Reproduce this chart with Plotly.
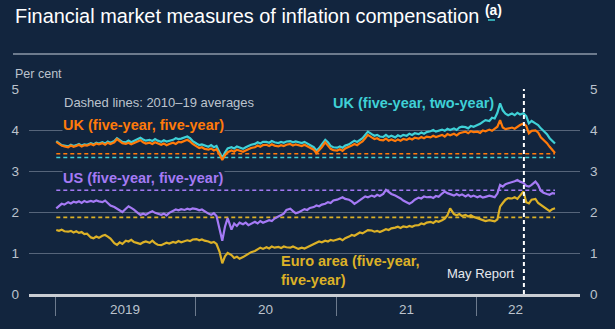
import pandas as pd
import plotly.graph_objects as go

# ---------------------------------------------------------------------------
# Data: four readings a month (4th, 11th, 18th, 25th), Jan 2019 - Jul 2022
# ---------------------------------------------------------------------------
months = pd.date_range("2019-01-01", "2022-07-01", freq="MS")
dates = [m + pd.Timedelta(days=d - 1) for m in months for d in (4, 11, 18, 25)]

uk_5y5y = [
    3.71, 3.66, 3.62, 3.60, 3.58, 3.62, 3.59, 3.61, 3.64, 3.60, 3.63, 3.62,
    3.66, 3.63, 3.67, 3.65, 3.68, 3.64, 3.69, 3.66, 3.70, 3.78, 3.72, 3.68,
    3.66, 3.69, 3.65, 3.68, 3.71, 3.75, 3.70, 3.67, 3.69, 3.66, 3.70, 3.67,
    3.64, 3.67, 3.63, 3.66, 3.69, 3.66, 3.71, 3.70, 3.74, 3.76, 3.72, 3.66,
    # 2020
    3.60, 3.56, 3.58, 3.54, 3.52, 3.55, 3.50, 3.53, 3.40, 3.27, 3.38, 3.46,
    3.50, 3.47, 3.52, 3.49, 3.47, 3.50, 3.54, 3.56, 3.58, 3.62, 3.59, 3.63,
    3.64, 3.61, 3.65, 3.62, 3.60, 3.63, 3.61, 3.64, 3.66, 3.62, 3.65, 3.63,
    3.61, 3.64, 3.60, 3.58, 3.52, 3.44, 3.50, 3.58, 3.70, 3.62, 3.54, 3.51,
    # 2021
    3.50, 3.53, 3.49, 3.55, 3.58, 3.62, 3.66, 3.63, 3.68, 3.72, 3.80, 3.88,
    3.82, 3.78, 3.80, 3.76, 3.75, 3.79, 3.74, 3.77, 3.73, 3.77, 3.74, 3.78,
    3.76, 3.80, 3.77, 3.81, 3.79, 3.83, 3.80, 3.84, 3.82, 3.86, 3.83, 3.85,
    3.88, 3.84, 3.90, 3.87, 3.91, 3.87, 3.92, 3.94, 3.96, 3.92, 3.97, 3.95,
    # 2022
    3.96, 3.93, 3.99, 3.97, 4.01, 3.98, 4.04, 4.08, 4.24, 4.06, 4.02, 4.04,
    4.06, 4.03, 4.08, 4.12, 4.16, 4.10, 3.92, 3.98, 3.99, 3.94, 3.82, 3.76,
    3.68, 3.59, 3.52, 3.44,
]

uk_5y2y = [
    3.73, 3.68, 3.63, 3.62, 3.60, 3.64, 3.61, 3.63, 3.66, 3.62, 3.65, 3.64,
    3.68, 3.65, 3.69, 3.67, 3.70, 3.67, 3.72, 3.69, 3.73, 3.80, 3.75, 3.71,
    3.70, 3.74, 3.70, 3.73, 3.77, 3.81, 3.77, 3.74, 3.76, 3.73, 3.78, 3.74,
    3.71, 3.75, 3.72, 3.74, 3.76, 3.80, 3.78, 3.79, 3.82, 3.84, 3.80, 3.73,
    # 2020
    3.67, 3.63, 3.65, 3.62, 3.59, 3.63, 3.58, 3.61, 3.47, 3.32, 3.45, 3.55,
    3.58, 3.55, 3.60, 3.57, 3.54, 3.58, 3.62, 3.64, 3.66, 3.70, 3.67, 3.71,
    3.71, 3.69, 3.73, 3.70, 3.68, 3.71, 3.69, 3.72, 3.73, 3.70, 3.72, 3.70,
    3.68, 3.71, 3.67, 3.65, 3.58, 3.50, 3.56, 3.65, 3.76, 3.70, 3.61, 3.58,
    # 2021
    3.57, 3.60, 3.57, 3.62, 3.65, 3.70, 3.74, 3.71, 3.76, 3.80, 3.88, 3.96,
    3.90, 3.86, 3.88, 3.84, 3.83, 3.88, 3.83, 3.86, 3.82, 3.87, 3.84, 3.88,
    3.86, 3.91, 3.88, 3.92, 3.90, 3.94, 3.91, 3.95, 3.97, 4.00, 3.96, 3.99,
    4.01, 3.98, 4.03, 4.00, 4.04, 4.00, 4.06, 4.08, 4.07, 4.04, 4.10, 4.08,
    # 2022
    4.12, 4.15, 4.20, 4.24, 4.22, 4.30, 4.28, 4.42, 4.65, 4.48, 4.40, 4.36,
    4.40, 4.36, 4.42, 4.38, 4.41, 4.34, 4.16, 4.22, 4.16, 4.12, 4.04, 3.98,
    3.90, 3.80, 3.74, 3.67,
]

us_5y5y = [
    2.09, 2.14, 2.20, 2.18, 2.24, 2.21, 2.25, 2.23, 2.26, 2.22, 2.27, 2.24,
    2.27, 2.25, 2.28, 2.26, 2.24, 2.28, 2.22, 2.16, 2.12, 2.08, 2.02, 2.00,
    2.08, 2.14, 2.10, 2.06, 1.98, 1.93, 1.96, 1.93, 1.99, 2.02, 1.98, 1.96,
    1.93, 1.96, 1.92, 1.98, 2.03, 2.06, 2.04, 2.07, 2.05, 2.08, 2.06, 2.09,
    # 2020
    2.07, 2.04, 2.06, 2.01, 1.96, 1.93, 1.97, 1.90, 1.55, 1.30, 1.64, 1.85,
    1.57, 1.72, 1.66, 1.74, 1.70, 1.74, 1.68, 1.72, 1.76, 1.72, 1.78, 1.74,
    1.77, 1.80, 1.78, 1.84, 1.89, 1.92, 1.96, 2.05, 2.08, 2.02, 1.97, 1.99,
    2.04, 2.07, 2.05, 2.10, 2.12, 2.16, 2.14, 2.18, 2.20, 2.24, 2.22, 2.28,
    # 2021
    2.30, 2.33, 2.36, 2.32, 2.30, 2.26, 2.20, 2.24, 2.28, 2.33, 2.38, 2.36,
    2.40, 2.37, 2.42, 2.39, 2.44, 2.54, 2.48, 2.44, 2.40, 2.37, 2.33, 2.28,
    2.24, 2.20, 2.24, 2.30, 2.35, 2.33, 2.38, 2.36, 2.37, 2.34, 2.39, 2.37,
    2.45, 2.50, 2.46, 2.43, 2.40, 2.44, 2.40, 2.43, 2.38, 2.42, 2.37, 2.40,
    # 2022
    2.36, 2.39, 2.35, 2.37, 2.40, 2.38, 2.36, 2.45, 2.66, 2.62, 2.68, 2.70,
    2.72, 2.75, 2.78, 2.74, 2.71, 2.64, 2.62, 2.66, 2.74, 2.66, 2.52, 2.47,
    2.44, 2.42, 2.46, 2.45,
]

ea_5y5y = [
    1.56, 1.54, 1.57, 1.53, 1.52, 1.54, 1.50, 1.53, 1.49, 1.51, 1.46, 1.47,
    1.38, 1.36, 1.40, 1.37, 1.42, 1.44, 1.40, 1.35, 1.24, 1.20, 1.26, 1.22,
    1.30, 1.28, 1.32, 1.27, 1.24, 1.22, 1.26, 1.28, 1.25, 1.30, 1.24, 1.20,
    1.19, 1.22, 1.25, 1.23, 1.27, 1.25, 1.29, 1.26, 1.28, 1.31, 1.29, 1.33,
    # 2020
    1.34, 1.31, 1.33, 1.30, 1.28, 1.25, 1.27, 1.22, 1.03, 0.75, 0.92, 1.00,
    0.95, 0.88, 0.91, 0.86, 0.90, 0.94, 0.98, 1.02, 1.05, 1.09, 1.13, 1.10,
    1.14, 1.11, 1.16, 1.13, 1.15, 1.12, 1.16, 1.14, 1.13, 1.16, 1.12, 1.10,
    1.13, 1.11, 1.14, 1.17, 1.20, 1.24, 1.28, 1.26, 1.30, 1.28, 1.32, 1.30,
    # 2021
    1.32, 1.35, 1.31, 1.36, 1.40, 1.44, 1.42, 1.46, 1.50, 1.48, 1.52, 1.56,
    1.55, 1.52, 1.54, 1.51, 1.55, 1.58, 1.56, 1.60, 1.62, 1.64, 1.61, 1.65,
    1.63, 1.66, 1.64, 1.67, 1.68, 1.72, 1.70, 1.74, 1.76, 1.73, 1.78, 1.76,
    1.80, 1.84, 1.92, 2.09, 1.95, 1.92, 1.95, 1.90, 1.93, 1.89, 1.92, 1.88,
    # 2022
    1.85, 1.82, 1.80, 1.78, 1.80, 1.78, 1.77, 1.82, 2.13, 2.22, 2.30, 2.34,
    2.33, 2.36, 2.32, 2.40, 2.50, 2.24, 2.21, 2.30, 2.32, 2.22, 2.17, 2.12,
    2.06, 2.02, 2.07, 2.09,
]

# 2010-19 averages (dashed reference lines)
avg_uk_5y5y = 3.42
avg_uk_5y2y = 3.33
avg_us_5y5y = 2.53
avg_ea_5y5y = 1.87

year_ticks = ["2019-01-01", "2020-01-01", "2021-01-01", "2022-01-01"]
year_labels = ["2019", "20", "21", "22"]
may_report_date = "2022-05-05"
y_ticks = [0, 1, 2, 3, 4, 5]

# ---------------------------------------------------------------------------
# Styling
# ---------------------------------------------------------------------------
W, H = 615, 329
L, R, T, B = 29, 35, 89, 35
PW, PH = W - L - R, H - T - B


def px(xp):
    """Pixel column -> paper x."""
    return (xp - L) / PW


def py(yp):
    """Pixel row -> paper y."""
    return (H - B - yp) / PH


BG = "#12253e"
GRID = "#56657a"
AXIS = "#c9cdd3"
TXT = "#bcc3cd"
FONT = "Liberation Sans"

C_TEAL = "#3fd0d6"
C_ORANGE = "#ff7a0a"
C_PURPLE = "#a57af5"
C_YELLOW = "#dcb127"

fig = go.Figure()

# dashed averages
for avg, col in [(avg_uk_5y2y, C_TEAL), (avg_uk_5y5y, C_ORANGE),
                 (avg_us_5y5y, C_PURPLE), (avg_ea_5y5y, C_YELLOW)]:
    fig.add_trace(go.Scatter(
        x=[dates[0], dates[-1]], y=[avg, avg], mode="lines",
        line=dict(color=col, width=1.6, dash="4px,3px"),
        hoverinfo="skip", showlegend=False))

# series
for vals, col in [(us_5y5y, C_PURPLE), (ea_5y5y, C_YELLOW),
                  (uk_5y2y, C_TEAL), (uk_5y5y, C_ORANGE)]:
    fig.add_trace(go.Scatter(
        x=dates, y=vals, mode="lines",
        line=dict(color=col, width=2.2),
        hoverinfo="skip", showlegend=False))

# invisible trace to carry the right-hand axis
fig.add_trace(go.Scatter(x=[dates[0]], y=[0], yaxis="y2", mode="markers",
                         marker=dict(opacity=0), hoverinfo="skip",
                         showlegend=False))

ann = []
# x-axis year labels, centred in the span covered by each year
span_end = [pd.Timestamp(d) for d in year_ticks[1:]] + [dates[-1]]
for lbl, start, end in zip(year_labels, year_ticks, span_end):
    mid = pd.Timestamp(start) + (end - pd.Timestamp(start)) / 2
    ann.append(dict(x=mid, xref="x", y=py(309), yref="paper", text=lbl,
                    showarrow=False, xanchor="center", yanchor="middle",
                    font=dict(family=FONT, size=13.5, color=TXT)))

# title and unit
ann.append(dict(x=px(13), y=py(15), xref="paper", yref="paper",
                text="Financial market measures of inflation compensation <sup><b>(a)</b></sup>",
                showarrow=False, xanchor="left", yanchor="middle",
                font=dict(family=FONT, size=19.9, color="#ffffff")))
ann.append(dict(x=px(13), y=py(74), xref="paper", yref="paper", text="Per cent",
                showarrow=False, xanchor="left", yanchor="middle",
                font=dict(family=FONT, size=12.5, color=TXT)))

# series labels
ann.append(dict(x=px(62), y=py(103), xref="paper", yref="paper",
                text="Dashed lines: 2010\u201319 averages", showarrow=False,
                xanchor="left", yanchor="middle",
                font=dict(family=FONT, size=13, color=TXT)))
ann.append(dict(x=px(331), y=py(103), xref="paper", yref="paper",
                text="<b>UK (five-year, two-year)</b>", showarrow=False,
                xanchor="left", yanchor="middle",
                font=dict(family=FONT, size=14.5, color=C_TEAL)))
ann.append(dict(x=px(62), y=py(125), xref="paper", yref="paper",
                text="<b>UK (five-year, five-year)</b>", showarrow=False,
                xanchor="left", yanchor="middle", bgcolor=BG, borderpad=0,
                font=dict(family=FONT, size=14.5, color=C_ORANGE)))
ann.append(dict(x=px(62), y=py(178), xref="paper", yref="paper",
                text="<b>US (five-year, five-year)</b>", showarrow=False,
                xanchor="left", yanchor="middle", bgcolor=BG, borderpad=0,
                font=dict(family=FONT, size=14.5, color=C_PURPLE)))
ann.append(dict(x=px(279), y=py(270), xref="paper", yref="paper",
                text="<b>Euro area (five-year,<br>five-year)</b>", showarrow=False,
                xanchor="left", yanchor="middle", align="left",
                font=dict(family=FONT, size=14.5, color=C_YELLOW)))
ann.append(dict(x=px(517), y=py(273), xref="paper", yref="paper",
                text="May Report", showarrow=False,
                xanchor="right", yanchor="middle",
                font=dict(family=FONT, size=13, color="#e6e9ee")))

shapes = [
    # rule under the title
    dict(type="line", xref="paper", yref="paper", x0=px(13), x1=px(597),
         y0=py(54), y1=py(54), line=dict(color="#8d98a8", width=1.5)),
    # teal underline on the footnote marker
    dict(type="line", xref="paper", yref="paper", x0=px(488), x1=px(495),
         y0=py(20), y1=py(20), line=dict(color=C_TEAL, width=1.5)),
    # May Report marker
    dict(type="line", xref="x", yref="y", x0=may_report_date, x1=may_report_date,
         y0=0, y1=5, line=dict(color="#ffffff", width=2, dash="4px,3px")),
]

fig.update_layout(
    width=W, height=H, autosize=False,
    margin=dict(l=L, r=R, t=T, b=B, pad=0),
    paper_bgcolor=BG, plot_bgcolor=BG,
    showlegend=False,
    annotations=ann, shapes=shapes,
    xaxis=dict(type="date", range=["2018-10-25", "2022-09-28"],
               tickvals=year_ticks, showticklabels=False,
               ticks="outside", ticklen=19, tickwidth=1, tickcolor="#6c7a8d",
               showgrid=False, zeroline=False,
               showline=True, linecolor=AXIS, linewidth=2.5),
    yaxis=dict(range=[0, 5], tickvals=y_ticks, showgrid=True,
               gridcolor=GRID, gridwidth=1.3, zeroline=False, ticks="",
               ticklabelstandoff=9,
               tickfont=dict(family=FONT, size=13.5, color=TXT)),
    yaxis2=dict(range=[0, 5], tickvals=y_ticks, overlaying="y", side="right",
                showgrid=False, zeroline=False, ticks="",
                ticklabelstandoff=9,
                tickfont=dict(family=FONT, size=13.5, color=TXT)),
)

fig.write_html("out.html")
